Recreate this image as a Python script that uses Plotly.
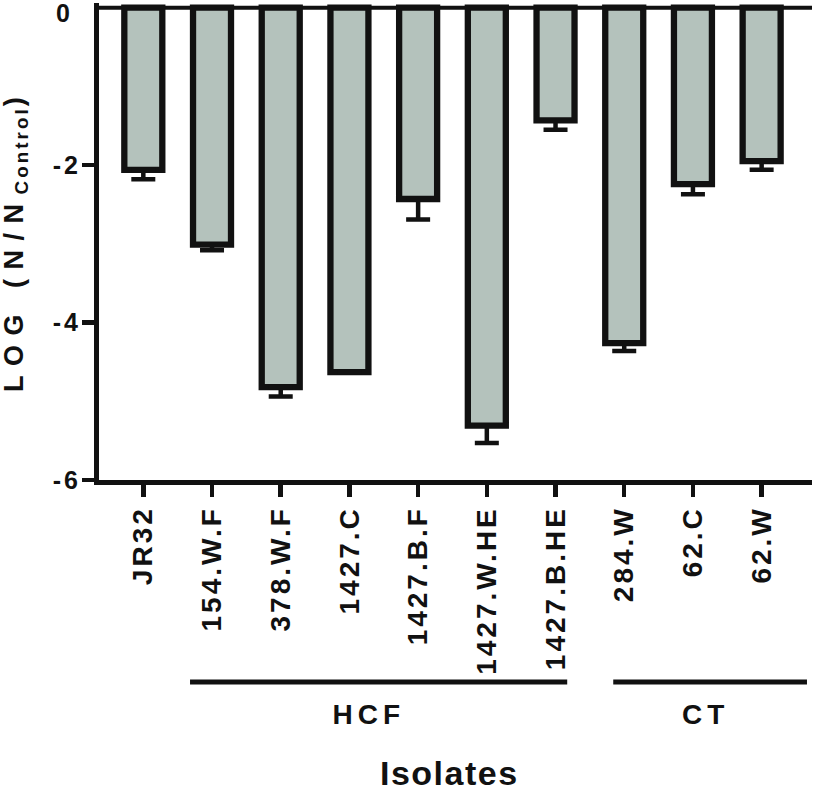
import plotly.graph_objects as go

# ---- data ----
isolates = ["JR32", "154.W.F", "378.W.F", "1427.C", "1427.B.F",
            "1427.W.HE", "1427.B.HE", "284.W", "62.C", "62.W"]
log_reduction = [-2.06, -3.01, -4.82, -4.63, -2.43, -5.31, -1.43, -4.26, -2.24, -1.95]
error_minus = [0.12, 0.07, 0.12, 0.0, 0.26, 0.22, 0.12, 0.10, 0.13, 0.11]

group_names = ["HCF", "CT"]
group_label_x = [3.29, 8.18]
group_line_start = [0.68, 6.84]
group_line_end = [6.17, 9.66]

y_tickvals = [-6, -4, -2]
y_ticktext = ["-6", "-4", "-2"]

FONT = "Liberation Sans, Arial, Helvetica, sans-serif"
BLACK = "#111111"
FILL = "#b4c2bc"

x_idx = list(range(len(isolates)))

fig = go.Figure()
fig.add_trace(go.Bar(
    x=x_idx, y=log_reduction, width=0.553,
    marker=dict(color=FILL, line=dict(color=BLACK, width=6.3)),
    error_y=dict(type="data", symmetric=False, array=[0]*len(isolates),
                 arrayminus=error_minus, color=BLACK, thickness=4.5, width=12),
    showlegend=False, hoverinfo="skip",
))

fig.update_layout(
    width=813, height=792,
    margin=dict(l=99, r=1, t=3, b=312),
    plot_bgcolor="white", paper_bgcolor="white",
    font=dict(family=FONT, color=BLACK, weight=700),
    xaxis=dict(
        range=[-0.645, 9.733], tickmode="array", tickvals=x_idx, ticktext=isolates,
        tickangle=-90, showline=True, linecolor=BLACK, linewidth=5,
        ticks="outside", ticklen=12, tickwidth=4.5, tickcolor=BLACK,
        tickfont=dict(size=28, family=FONT, color=BLACK, weight=700),
        showgrid=False, zeroline=False, ticklabelstandoff=-2,
    ),
    yaxis=dict(
        range=[-6, 0.06], tickmode="array", tickvals=y_tickvals, ticktext=y_ticktext,
        showline=True, linecolor=BLACK, linewidth=5,
        ticks="outside", ticklen=12, tickwidth=4.5, tickcolor=BLACK,
        tickfont=dict(size=25, family=FONT, color=BLACK, weight=700),
        showgrid=False, zeroline=False, ticklabelstandoff=-4,
    ),
)

# zero line at top
fig.add_shape(type="line", xref="paper", yref="y", x0=0, x1=1, y0=0, y1=0,
              line=dict(color=BLACK, width=4), layer="below")

# group lines and labels
for name, lx, s, e in zip(group_names, group_label_x, group_line_start, group_line_end):
    fig.add_shape(type="line", xref="x", yref="paper", x0=s, x1=e, y0=-0.4235, y1=-0.4235,
                  line=dict(color=BLACK, width=5))
    fig.add_annotation(x=lx, y=-0.4906, xref="x", yref="paper", text=name,
                       showarrow=False, xanchor="center", yanchor="middle",
                       font=dict(size=28, family=FONT, color=BLACK, weight=700))

# "0" tick label (shifted down like the reference)
fig.add_annotation(x=-0.0378, y=0.980, xref="paper", yref="paper", text="0",
                   showarrow=False, xanchor="right", yanchor="middle",
                   font=dict(size=25, family=FONT, color=BLACK, weight=700))

# axis titles
fig.add_annotation(x=-0.117, y=0.503, xref="paper", yref="paper",
                   text="LOG (N/N<sub>Control</sub>)", textangle=-90,
                   showarrow=False, xanchor="center", yanchor="middle",
                   font=dict(size=27, family=FONT, color=BLACK, weight=700))
fig.add_annotation(x=0.4916, y=-0.614, xref="paper", yref="paper", text="Isolates",
                   showarrow=False, xanchor="center", yanchor="middle",
                   font=dict(size=34, family=FONT, color=BLACK, weight=700))

post = """
document.documentElement.style.margin='0';
document.body.style.margin='0';
document.body.style.padding='0';
var gd = document.getElementById('{plot_id}');
gd.querySelectorAll('.xtick text').forEach(function(t){ t.style.letterSpacing='3px'; });
gd.querySelectorAll('.ytick text').forEach(function(t){ t.style.letterSpacing='3px'; });
gd.querySelectorAll('.annotation-text').forEach(function(t){
  var s = t.textContent;
  if (s.indexOf('LOG') === 0) {
    t.style.letterSpacing = '9.5px';
    t.querySelectorAll('tspan').forEach(function(sp){
      if (sp.textContent === 'Control') sp.style.letterSpacing = '3px';
    });
  } else if (s === 'HCF' || s === 'CT') {
    t.style.letterSpacing = '5px';
  } else if (s === 'Isolates') {
    t.style.letterSpacing = '1.5px';
  }
});
"""

fig.write_html("out.html", post_script=post,
               config={"displayModeBar": False, "staticPlot": True})
